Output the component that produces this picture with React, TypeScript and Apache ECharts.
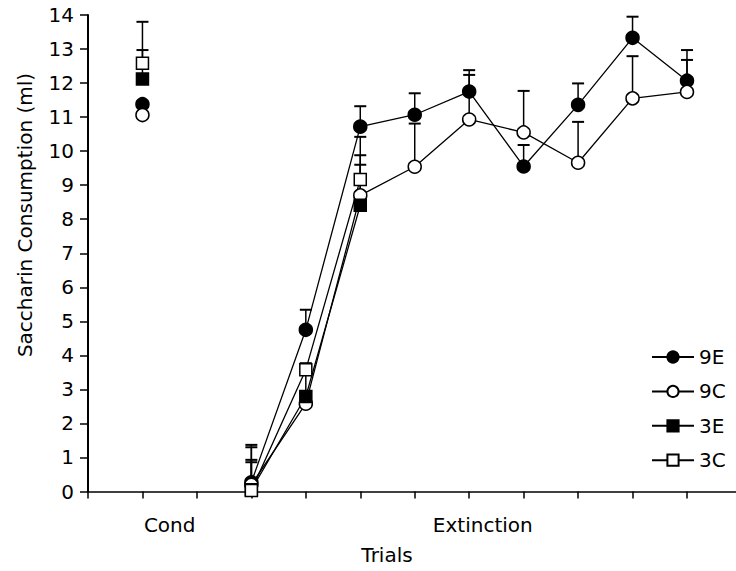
import React, { useEffect, useRef } from "react";
import * as echarts from "echarts";

// ---- Data ----
const groupNames = ["9E", "9C", "3E", "3C"];
const condPosition = 1;
const extinctionPositions = [3, 4, 5, 6, 7, 8, 9, 10, 11];
const categoryLabels = ["Cond", "Extinction"];
const categoryLabelPositions = [1.5, 7.25];
const yTicks = [0, 1, 2, 3, 4, 5, 6, 7, 8, 9, 10, 11, 12, 13, 14];

// Conditioning trial means and upper error limits (null = no visible bar)
const condMean = [11.38, 11.06, 12.12, 12.58];
const condUpper: (number | null)[] = [null, null, 12.97, 13.8];

// Extinction trial means
const ext9E = [0.27, 4.75, 10.72, 11.07, 11.75, 9.55, 11.36, 13.33, 12.07];
const ext9C = [0.2, 2.58, 8.7, 9.54, 10.93, 10.55, 9.66, 11.55, 11.74];
const ext3E = [0.05, 2.79, 8.41];
const ext3C = [0.03, 3.58, 9.17];

// Extinction upper error limits
const up9E = [1.37, 5.34, 11.32, 11.7, 12.38, 10.18, 11.99, 13.95, 12.97];
const up9C = [0.93, null, 10.42, 10.81, 12.24, 11.77, 10.86, 12.79, 12.68];
const up3E = [1.3, 3.77, 9.88];
const up3C = [0.86, 3.7, 9.6];

const extMeans = [ext9E, ext9C, ext3E, ext3C];
const extUppers = [up9E, up9C, up3E, up3C];

const FONT = "DejaVu Sans";

export default function App() {
  const ref = useRef<HTMLDivElement>(null);

  useEffect(() => {
    document.body.style.margin = "0";
    if (!ref.current) return;
    const chart = echarts.init(ref.current, undefined, { renderer: "svg" });

    const symbolFor = (name: string) => (name.startsWith("9") ? "circle" : "rect");
    const filledFor = (name: string) => name.endsWith("E");

    const lineSeries = groupNames.map((name, gi) => {
      const data: any[] = [[condPosition, condMean[gi]], [2, null]];
      extMeans[gi].forEach((v, i) => data.push([extinctionPositions[i], v]));
      return {
        name,
        type: "line",
        data,
        connectNulls: false,
        symbol: symbolFor(name),
        symbolSize: name.startsWith("9") ? 13 : 12,
        z: 3,
        lineStyle: { color: "#000", width: 1.3 },
        itemStyle: {
          color: filledFor(name) ? "#000" : "#fff",
          borderColor: "#000",
          borderWidth: 1.5,
        },
        emphasis: { disabled: true },
      };
    });

    const errData: number[][] = [];
    groupNames.forEach((_, gi) => {
      const cu = condUpper[gi];
      if (cu != null) errData.push([condPosition, condMean[gi], cu]);
      extMeans[gi].forEach((v, i) => {
        const u = extUppers[gi][i];
        if (u != null) errData.push([extinctionPositions[i], v, u]);
      });
    });

    const errorSeries = {
      type: "custom",
      name: "err",
      data: errData,
      z: 1,
      encode: { x: 0, y: 1 },
      renderItem: (params: any, api: any) => {
        const x = api.value(0);
        const y = api.value(1);
        const top = api.value(2);
        const p0 = api.coord([x, y]);
        const p1 = api.coord([x, top]);
        return {
          type: "group",
          children: [
            {
              type: "line",
              shape: { x1: p0[0], y1: p0[1], x2: p0[0], y2: p1[1] },
              style: { stroke: "#000", lineWidth: 1.5 },
            },
            {
              type: "line",
              shape: { x1: p0[0] - 6, y1: p1[1], x2: p0[0] + 6, y2: p1[1] },
              style: { stroke: "#000", lineWidth: 2 },
            },
          ],
        };
      },
    };

    chart.setOption({
      animation: false,
      backgroundColor: "#fff",
      textStyle: { fontFamily: FONT, color: "#000" },
      grid: { left: 88, right: 0, top: 15, bottom: 79.5, containLabel: false },
      xAxis: {
        type: "value",
        min: 0,
        max: 11.9,
        interval: 1,
        splitLine: { show: false },
        axisLine: { show: true, onZero: false, lineStyle: { color: "#000", width: 1.5 } },
        axisTick: {
          show: true,
          length: 7,
          customValues: [0, 1, 2, 3, 4, 5, 6, 7, 8, 9, 10, 11],
          lineStyle: { color: "#000", width: 1.5 },
        },
        axisLabel: {
          show: true,
          customValues: categoryLabelPositions,
          formatter: (v: number) => {
            const idx = categoryLabelPositions.findIndex((p) => Math.abs(p - v) < 1e-6);
            return idx >= 0 ? categoryLabels[idx] : "";
          },
          fontSize: 20,
          fontFamily: FONT,
          color: "#000",
          margin: 23,
        },
      },
      yAxis: {
        type: "value",
        min: 0,
        max: 14,
        interval: 1,
        splitLine: { show: false },
        axisLine: { show: true, lineStyle: { color: "#000", width: 2 } },
        axisTick: { show: true, length: 8, lineStyle: { color: "#000", width: 1.5 } },
        axisLabel: {
          fontSize: 20,
          fontFamily: FONT,
          color: "#000",
          margin: 14,
          formatter: (v: number) => (yTicks.includes(v) ? String(v) : ""),
        },
      },
      legend: {
        data: groupNames,
        orient: "vertical",
        left: 646,
        top: 342,
        itemWidth: 42,
        itemHeight: 14,
        itemGap: 14.4,
        textStyle: { fontSize: 20, fontFamily: FONT, color: "#000" },
        selectedMode: false,
      },
      graphic: [
        {
          type: "text",
          x: 25,
          y: 215,
          rotation: Math.PI / 2,
          style: {
            text: "Saccharin Consumption (ml)",
            fontSize: 20,
            fontFamily: FONT,
            fill: "#000",
            align: "center",
            verticalAlign: "middle",
          },
        },
        {
          type: "text",
          x: 387,
          y: 555,
          style: {
            text: "Trials",
            fontSize: 20,
            fontFamily: FONT,
            fill: "#000",
            align: "center",
            verticalAlign: "middle",
          },
        },
      ],
      series: [errorSeries, ...lineSeries],
    });

    return () => chart.dispose();
  }, []);

  return <div ref={ref} style={{ width: 736, height: 571 }} />;
}
